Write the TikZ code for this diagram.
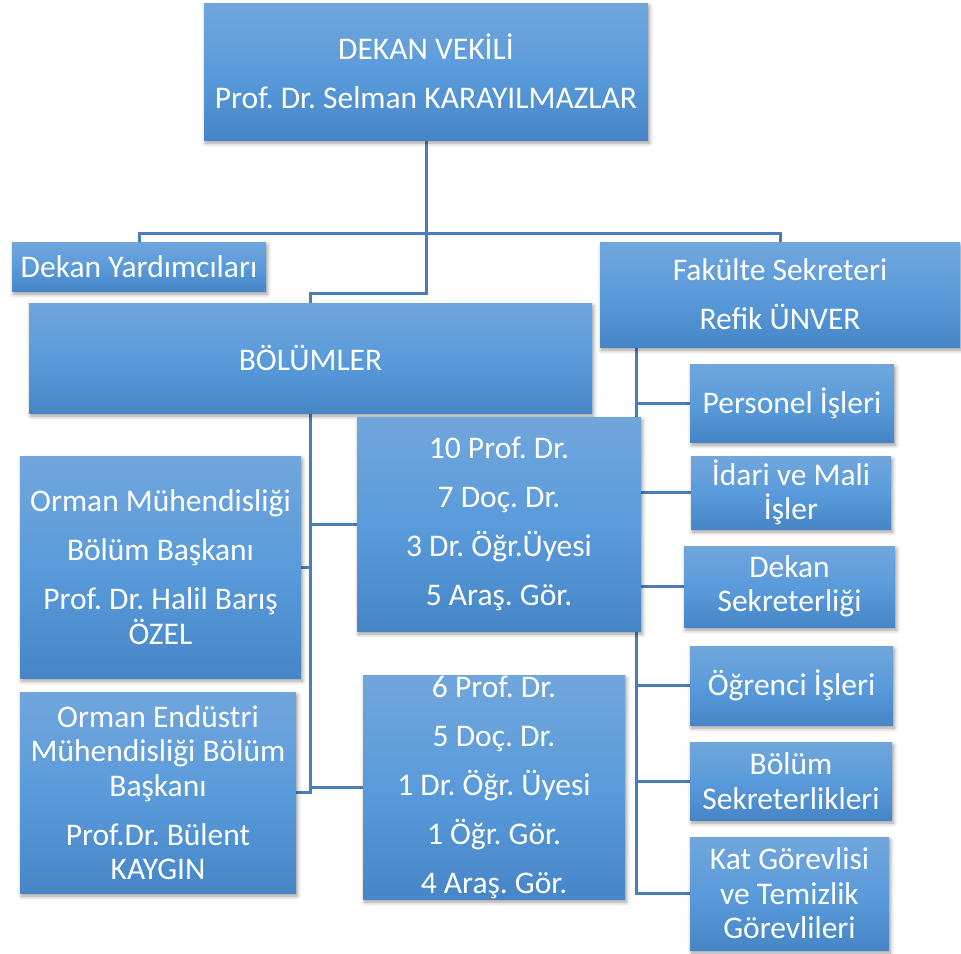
\documentclass[tikz,border=0pt]{standalone}
\usepackage{fontspec}
\setmainfont{Carlito}
\usetikzlibrary{shadows.blur,backgrounds}
\definecolor{boxtop}{HTML}{71A6DC}
\definecolor{boxmid}{HTML}{5A9BDB}
\definecolor{boxbot}{HTML}{4686C7}
\definecolor{linec}{HTML}{4A7EBB}
\frenchspacing
\begin{document}
\begin{tikzpicture}[x=1pt,y=-1pt,
  orgbox/.style={rectangle, inner sep=0pt, top color=boxtop, bottom color=boxbot, middle color=boxmid,
    text=white, align=center, font=\frenchspacing\fontsize{31.5}{34.5}\selectfont,
    blur shadow={shadow xshift=1.5pt, shadow yshift=-3pt, shadow blur radius=4pt, shadow opacity=40}},
  conn/.style={draw=linec, line width=3pt}]
\useasboundingbox (0,0) rectangle (961,953);

\node[orgbox, minimum width=444pt, minimum height=137pt] (dekan) at (426,71.5) {DEKAN VEKİLİ\\[14.5pt]Prof. Dr. Selman KARAYILMAZLAR};
\node[orgbox, minimum width=254pt, minimum height=49pt] (yard) at (139,266.5) {Dekan Yardımcıları};
\node[orgbox, minimum width=360pt, minimum height=105pt] (fak) at (780,294.5) {Fakülte Sekreteri\\[14.5pt]Refik ÜNVER};
\node[orgbox, minimum width=563pt, minimum height=110pt] (bol) at (310.5,358) {BÖLÜMLER};
\node[orgbox, minimum width=284pt, minimum height=214pt] (st1) at (499,524) {10 Prof. Dr.\\[14.5pt]7 Doç. Dr.\\[14.5pt]3 Dr. Öğr.Üyesi\\[14.5pt]5 Araş. Gör.};
\node[orgbox, minimum width=281pt, minimum height=222pt] (om) at (160.5,567) {Orman Mühendisliği\\[14.5pt]Bölüm Başkanı\\[14.5pt]Prof. Dr. Halil Barış\\ÖZEL};
\node[orgbox, minimum width=276pt, minimum height=201pt] (oe) at (158,792.5) {Orman Endüstri\\Mühendisliği Bölüm\\Başkanı\\[14.5pt]Prof.Dr. Bülent\\KAYGIN};
\node[orgbox, minimum width=262pt, minimum height=224pt] (st2) at (494,787) {6 Prof. Dr.\\[14.5pt]5 Doç. Dr.\\[14.5pt]1 Dr. Öğr. Üyesi\\[14.5pt]1 Öğr. Gör.\\[14.5pt]4 Araş. Gör.};
\node[orgbox, minimum width=204pt, minimum height=78pt] (pers) at (792,403) {Personel İşleri};
\node[orgbox, minimum width=200pt, minimum height=73pt] (idari) at (791,492.5) {İdari ve Mali\\İşler};
\node[orgbox, minimum width=211pt, minimum height=81pt] (dsek) at (789.5,586.5) {Dekan\\Sekreterliği};
\node[orgbox, minimum width=203pt, minimum height=79pt] (ogr) at (791.5,685.5) {Öğrenci İşleri};
\node[orgbox, minimum width=202pt, minimum height=78pt] (bsek) at (791,781) {Bölüm\\Sekreterlikleri};
\node[orgbox, minimum width=199pt, minimum height=113pt] (kat) at (789.5,893.5) {Kat Görevlisi\\ve Temizlik\\Görevlileri};

\coordinate (tbar) at (0,233);
\coordinate (mbar) at (0,293);
\coordinate (lt) at (310,0);
\coordinate (rt) at (636,0);

\begin{pgfonlayer}{background}
\draw[conn] (dekan.south) -- (dekan.south |- tbar);
\draw[conn] (yard.north) -- (yard.north |- tbar) -- (fak.north |- tbar) -- (fak.north);
\draw[conn] (dekan.south |- tbar) -- (dekan.south |- mbar) -- (bol.north |- mbar) -- (bol.north);
\draw[conn] (bol.south -| lt) |- (oe.east);
\draw[conn] (lt |- st1.west) -- (st1.west);
\draw[conn] (lt |- om.east) -- (om.east);
\draw[conn] (lt |- st2.west) -- (st2.west);
\draw[conn] (fak.south -| rt) |- (kat.west);
\draw[conn] (rt |- pers.west) -- (pers.west);
\draw[conn] (rt |- idari.west) -- (idari.west);
\draw[conn] (rt |- dsek.west) -- (dsek.west);
\draw[conn] (rt |- ogr.west) -- (ogr.west);
\draw[conn] (rt |- bsek.west) -- (bsek.west);
\end{pgfonlayer}
\end{tikzpicture}
\end{document}
